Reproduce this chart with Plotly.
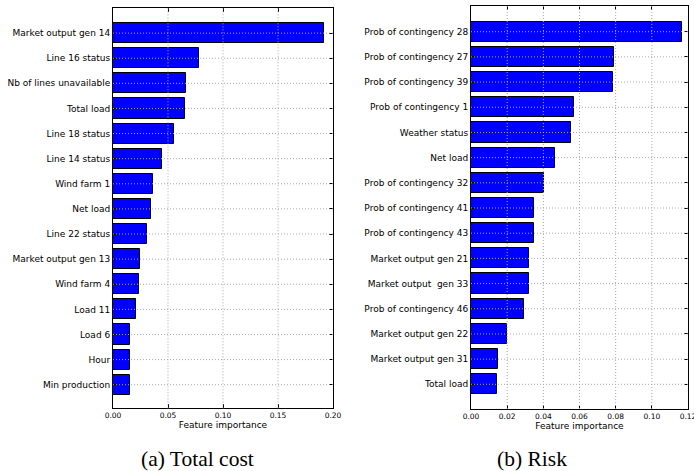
import plotly.graph_objects as go

W, H = 694, 471

cost_features = ["Market output gen 14", "Line 16 status", "Nb of lines unavailable", "Total load",
                 "Line 18 status", "Line 14 status", "Wind farm 1", "Net load", "Line 22 status",
                 "Market output gen 13", "Wind farm 4", "Load 11", "Load 6", "Hour", "Min production"]
cost_importance = [0.1915, 0.0779, 0.0667, 0.0658, 0.0552, 0.0445, 0.0361, 0.0343, 0.0312,
                   0.0243, 0.0240, 0.0209, 0.0158, 0.0152, 0.0152]

risk_features = ["Prob of contingency 28", "Prob of contingency 27", "Prob of contingency 39",
                 "Prob of contingency 1", "Weather status", "Net load", "Prob of contingency 32",
                 "Prob of contingency 41", "Prob of contingency 43", "Market output gen 21",
                 "Market output  gen 33", "Prob of contingency 46", "Market output gen 22",
                 "Market output gen 31", "Total load"]
risk_importance = [0.1165, 0.0790, 0.0783, 0.0569, 0.0554, 0.0464, 0.0401, 0.0349, 0.0347,
                   0.0323, 0.0321, 0.0292, 0.0198, 0.0150, 0.0142]

cost_ticks = [0.00, 0.05, 0.10, 0.15, 0.20]
risk_ticks = [0.00, 0.02, 0.04, 0.06, 0.08, 0.10, 0.12]

captions = ["(a) Total cost", "(b) Risk"]

FONT = "DejaVu Sans"
GRID = dict(color="#a8a8a8", width=1, dash="1px,2px")


def px_x(p):
    return p / W


def px_y(p):
    return 1 - p / H


fig = go.Figure()
fig.add_trace(go.Bar(x=cost_importance, y=list(range(len(cost_features))), orientation="h",
                     width=0.8, marker=dict(color="#0000ff", line=dict(color="black", width=1)),
                     xaxis="x", yaxis="y", showlegend=False, hoverinfo="skip"))
fig.add_trace(go.Bar(x=risk_importance, y=list(range(len(risk_features))), orientation="h",
                     width=0.8, marker=dict(color="#0000ff", line=dict(color="black", width=1)),
                     xaxis="x2", yaxis="y2", showlegend=False, hoverinfo="skip"))


def xax(domain, ticks, rng, anchor):
    return dict(domain=domain, range=rng, tickvals=ticks, ticktext=[f"{t:.2f}" for t in ticks],
                tickfont=dict(family=FONT, size=7.5, color="black"), ticklabeloverflow="allow",
                ticks="inside", ticklen=4, tickcolor="black", mirror="allticks",
                showline=True, linecolor="black", linewidth=1, automargin=False,
                showgrid=False, zeroline=False, anchor=anchor, layer="above traces",
                title=dict(text="Feature importance", font=dict(family=FONT, size=9, color="black"),
                           standoff=2))


def yax(domain, labels, rng, anchor):
    return dict(domain=domain, range=rng, tickvals=list(range(len(labels))), ticktext=labels,
                tickfont=dict(family=FONT, size=9, color="black"),
                ticks="inside", ticklen=4, tickcolor="black", mirror="allticks",
                showline=True, linecolor="black", linewidth=1, automargin=False,
                showgrid=False, zeroline=False, anchor=anchor, layer="above traces")


fig.update_layout(
    width=W, height=H, margin=dict(l=0, r=0, t=0, b=0, autoexpand=False),
    plot_bgcolor="white", paper_bgcolor="white", bargap=0,
    xaxis=xax([px_x(113), px_x(333)], cost_ticks, [0, 0.20], "y"),
    yaxis=yax([px_y(408.3), px_y(8)], cost_features, [14.94, -1.0], "x"),
    xaxis2=xax([px_x(471), px_x(688)], risk_ticks, [0, 0.12], "y2"),
    yaxis2=yax([px_y(409), px_y(6)], risk_features, [14.98, -1.02], "x2"),
)

# dotted grid drawn above the bars, at the tick positions
for xr, yr, ticks, labels in [("x", "y", cost_ticks, cost_features),
                              ("x2", "y2", risk_ticks, risk_features)]:
    for t in ticks[1:-1]:
        fig.add_shape(type="line", xref=xr, yref=yr + " domain", x0=t, x1=t, y0=0, y1=1,
                      line=GRID, layer="above")
    for i in range(len(labels)):
        fig.add_shape(type="line", xref=xr + " domain", yref=yr, x0=0, x1=1, y0=i, y1=i,
                      line=GRID, layer="above")

for cx, txt in zip([197.5, 532], captions):
    fig.add_annotation(text=txt, x=px_x(cx), y=px_y(458.5), xref="paper", yref="paper",
                       showarrow=False, xanchor="center", yanchor="middle",
                       font=dict(family="Liberation Serif", size=21.5, color="black"))

# remove the browser's default 8px page margin so the figure sits at the window origin
fig.write_html("out.html", config={"displayModeBar": False},
               post_script="document.body.style.margin='0px';")
